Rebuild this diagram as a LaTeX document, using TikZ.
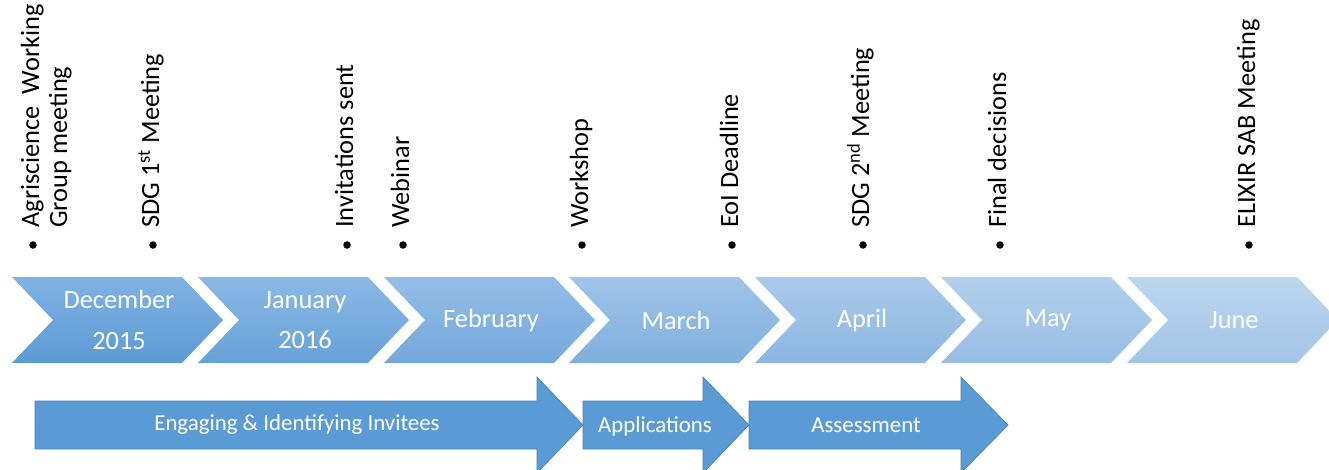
\documentclass[tikz,border=0pt]{standalone}
\usepackage{fontspec}
\setmainfont{Carlito}
\usetikzlibrary{positioning}

\definecolor{phaseblue}{HTML}{5B9BD5}
\definecolor{phaseline}{HTML}{4A82BE}
\definecolor{dectop}{HTML}{80B2E3}
\definecolor{decbot}{HTML}{5C9AD5}
\definecolor{juntop}{HTML}{BDD6EF}
\definecolor{junbot}{HTML}{A3C4E6}

\tikzset{
	month/.style={text=white, align=center, font=\fontsize{15}{23}\selectfont},
	event/.style={rotate=90, anchor=base west, inner sep=0pt, font=\fontsize{15}{18}\selectfont},
	dot/.style={circle, fill=black, inner sep=0pt, minimum size=0.15cm},
	phase/.style={fill=phaseblue, draw=phaseline, line width=0.4pt},
	phasetext/.style={text=white, font=\fontsize{13}{15}\selectfont}
}

\begin{document}
\begin{tikzpicture}[x=0.02cm, y=-0.02cm]
			\useasboundingbox (0,0) rectangle (1329,470);
			% months
			\shade [top color=dectop, bottom color=decbot] (12,277) -- ++(170,0) -- ++(41,43) -- ++(-41,43) -- ++(-170,0) -- ++(41,-43) -- cycle;
			\shade [top color=juntop!17!dectop, bottom color=junbot!17!decbot] (198,277) -- ++(170,0) -- ++(41,43) -- ++(-41,43) -- ++(-170,0) -- ++(41,-43) -- cycle;
			\shade [top color=juntop!33!dectop, bottom color=junbot!33!decbot] (384,277) -- ++(170,0) -- ++(41,43) -- ++(-41,43) -- ++(-170,0) -- ++(41,-43) -- cycle;
			\shade [top color=juntop!50!dectop, bottom color=junbot!50!decbot] (569,277) -- ++(170,0) -- ++(41,43) -- ++(-41,43) -- ++(-170,0) -- ++(41,-43) -- cycle;
			\shade [top color=juntop!67!dectop, bottom color=junbot!67!decbot] (755,277) -- ++(170,0) -- ++(41,43) -- ++(-41,43) -- ++(-170,0) -- ++(41,-43) -- cycle;
			\shade [top color=juntop!83!dectop, bottom color=junbot!83!decbot] (941,277) -- ++(170,0) -- ++(41,43) -- ++(-41,43) -- ++(-170,0) -- ++(41,-43) -- cycle;
			\shade [top color=juntop, bottom color=junbot] (1127,277) -- ++(170,0) -- ++(41,43) -- ++(-41,43) -- ++(-170,0) -- ++(41,-43) -- cycle;
			\node [month] (dec) at (119,320) {December\\2015};
			\node [month] (jan) at (305,320) {January\\2016};
			\node [month] (feb) at (491,320) {February};
			\node [month] (mar) at (676,320) {March};
			\node [month] (apr) at (862,320) {April};
			\node [month] (may) at (1048,320) {May};
			\node [month] (jun) at (1234,320) {June};
			% events
			\node [dot] (agridot) at (33,245) {};
			\node [dot] (sdgadot) at (153,245) {};
			\node [dot] (invdot) at (347,245) {};
			\node [dot] (webdot) at (403,245) {};
			\node [dot] (workdot) at (582,245) {};
			\node [dot] (eoidot) at (732,245) {};
			\node [dot] (sdgbdot) at (863,245) {};
			\node [dot] (finaldot) at (1000,245) {};
			\node [dot] (elixirdot) at (1249,245) {};
			\node [event] (agri) at (39,228) {Agriscience\ \ Working};
			\node [event] (agrib) at (67,228) {Group meeting};
			\node [event] (sdga) at (159,228) {SDG 1\textsuperscript{st} Meeting};
			\node [event] (inv) at (353,228) {Invitations sent};
			\node [event] (web) at (409,228) {Webinar};
			\node [event] (work) at (588,228) {Workshop};
			\node [event] (eoi) at (738,228) {EoI Deadline};
			\node [event] (sdgb) at (869,228) {SDG 2\textsuperscript{nd} Meeting};
			\node [event] (final) at (1006,228) {Final decisions};
			\node [event] (elixir) at (1255,228) {ELIXIR SAB Meeting};
			% phases
			\draw [phase] (35,401) -- (537,401) -- (537,377) -- (583,425) -- (537,473) -- (537,449) -- (35,449) -- cycle;
			\draw [phase] (583,401) -- (703,401) -- (703,377) -- (749,425) -- (703,473) -- (703,449) -- (583,449) -- cycle;
			\draw [phase] (749,401) -- (961,401) -- (961,377) -- (1008,425) -- (961,473) -- (961,449) -- (749,449) -- cycle;
			\node [phasetext] (engage) at (297,425) {Engaging \& Identifying Invitees};
			\node [phasetext] (apply) at (655,426) {Applications};
			\node [phasetext] (assess) at (866,425) {Assessment};
		\end{tikzpicture}
\end{document}
